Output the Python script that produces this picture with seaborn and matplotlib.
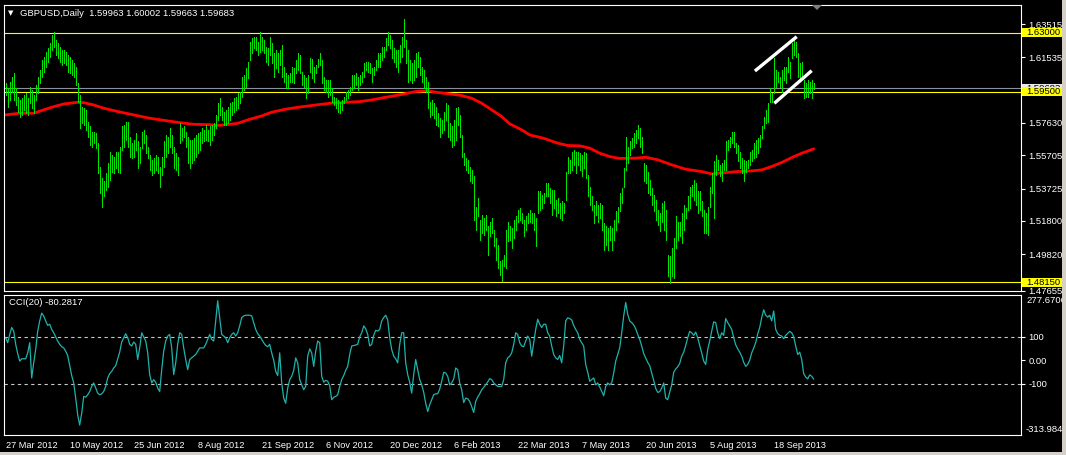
import numpy as np
import pandas as pd
import matplotlib
matplotlib.use("Agg")
import matplotlib.pyplot as plt
import matplotlib.transforms as mtransforms
from matplotlib.patches import Rectangle, Polygon
import seaborn as sns

# ---------------- data ----------------
symbol_title = "GBPUSD,Daily  1.59963 1.60002 1.59663 1.59683"
cci_title = "CCI(20) -80.2817"

highs = [
1.5999,1.5969,1.6009,1.6039,1.6062,1.5969,1.5920,1.5900,1.5910,1.5930,
1.5940,1.5910,1.5979,1.5959,1.5930,1.5989,1.6039,1.6078,1.6138,1.6157,
1.6187,1.6207,1.6237,1.6286,1.6302,1.6256,1.6237,1.6217,1.6197,1.6197,
1.6187,1.6167,1.6157,1.6138,1.6118,1.6098,1.5999,1.5930,1.5860,1.5851,
1.5841,1.5771,1.5742,1.5712,1.5712,1.5702,1.5643,1.5504,1.5435,1.5415,
1.5464,1.5524,1.5593,1.5573,1.5563,1.5593,1.5593,1.5623,1.5742,1.5752,
1.5771,1.5771,1.5682,1.5643,1.5662,1.5702,1.5653,1.5623,1.5712,1.5722,
1.5692,1.5623,1.5573,1.5544,1.5554,1.5573,1.5563,1.5504,1.5563,1.5653,
1.5692,1.5682,1.5732,1.5692,1.5623,1.5583,1.5563,1.5761,1.5732,1.5742,
1.5712,1.5682,1.5662,1.5662,1.5672,1.5692,1.5702,1.5712,1.5732,1.5722,
1.5752,1.5722,1.5742,1.5752,1.5761,1.5811,1.5880,1.5910,1.5860,1.5831,
1.5841,1.5860,1.5880,1.5890,1.5910,1.5920,1.5940,1.5950,1.6039,1.6049,
1.6088,1.6128,1.6246,1.6266,1.6276,1.6276,1.6246,1.6306,1.6276,1.6256,
1.6217,1.6207,1.6276,1.6237,1.6177,1.6197,1.6177,1.6197,1.6227,1.6098,
1.6058,1.6049,1.6058,1.6098,1.6088,1.6138,1.6177,1.6167,1.6068,1.6049,
1.6029,1.6049,1.6147,1.6142,1.6098,1.6108,1.6142,1.6177,1.6138,1.6039,
1.6019,1.6019,1.6019,1.5969,1.5920,1.5910,1.5900,1.5890,1.5900,1.5920,
1.5950,1.5959,1.5979,1.6049,1.6049,1.6058,1.6039,1.6049,1.6068,1.6118,
1.6128,1.6128,1.6118,1.6088,1.6098,1.6138,1.6177,1.6177,1.6217,1.6217,
1.6266,1.6306,1.6286,1.6256,1.6207,1.6197,1.6197,1.6227,1.6276,1.6381,
1.6256,1.6197,1.6138,1.6118,1.6138,1.6177,1.6187,1.6157,1.6098,1.6078,
1.6039,1.6009,1.5890,1.5900,1.5880,1.5860,1.5821,1.5791,1.5781,1.5831,
1.5880,1.5870,1.5761,1.5742,1.5781,1.5851,1.5860,1.5811,1.5692,1.5583,
1.5554,1.5544,1.5504,1.5484,1.5445,1.5266,1.5316,1.5187,1.5217,1.5197,
1.5217,1.5148,1.5177,1.5197,1.5128,1.5078,1.5039,1.4940,1.4950,1.4979,
1.5128,1.5177,1.5148,1.5138,1.5187,1.5207,1.5247,1.5257,1.5227,1.5187,
1.5207,1.5227,1.5247,1.5227,1.5227,1.5197,1.5356,1.5356,1.5336,1.5346,
1.5405,1.5405,1.5375,1.5365,1.5365,1.5306,1.5316,1.5286,1.5296,1.5286,
1.5474,1.5563,1.5544,1.5593,1.5603,1.5593,1.5593,1.5583,1.5573,1.5593,
1.5583,1.5455,1.5385,1.5326,1.5276,1.5296,1.5276,1.5286,1.5276,1.5167,
1.5148,1.5138,1.5148,1.5138,1.5187,1.5237,1.5266,1.5346,1.5375,1.5494,
1.5682,1.5623,1.5653,1.5672,1.5702,1.5722,1.5752,1.5732,1.5682,1.5524,
1.5514,1.5474,1.5425,1.5375,1.5336,1.5306,1.5247,1.5227,1.5286,1.5296,
1.5247,1.4979,1.4969,1.5019,1.5078,1.5207,1.5177,1.5177,1.5227,1.5276,
1.5257,1.5326,1.5385,1.5395,1.5425,1.5405,1.5356,1.5356,1.5296,1.5247,
1.5227,1.5266,1.5385,1.5464,1.5534,1.5573,1.5544,1.5514,1.5524,1.5544,
1.5653,1.5662,1.5682,1.5712,1.5712,1.5643,1.5633,1.5593,1.5554,1.5544,
1.5534,1.5544,1.5593,1.5603,1.5643,1.5662,1.5672,1.5692,1.5742,1.5801,
1.5841,1.5880,1.5969,1.5940,1.6147,1.6078,1.6068,1.6039,1.6078,1.6098,
1.6098,1.6157,1.6128,1.6237,1.6256,1.6246,1.6177,1.6118,1.6128,1.6019,
1.5999,1.6019,1.6009,1.6019,1.60002]

lows = [
1.5930,1.5860,1.5900,1.5950,1.5900,1.5870,1.5831,1.5801,1.5811,1.5841,
1.5821,1.5811,1.5880,1.5851,1.5821,1.5900,1.5940,1.5999,1.6039,1.6068,
1.6098,1.6128,1.6157,1.6197,1.6217,1.6167,1.6147,1.6128,1.6108,1.6118,
1.6108,1.6068,1.6058,1.6049,1.6039,1.5989,1.5890,1.5732,1.5761,1.5752,
1.5722,1.5682,1.5633,1.5623,1.5643,1.5613,1.5464,1.5346,1.5266,1.5326,
1.5365,1.5385,1.5425,1.5474,1.5464,1.5494,1.5474,1.5464,1.5603,1.5623,
1.5662,1.5623,1.5563,1.5554,1.5563,1.5603,1.5494,1.5524,1.5613,1.5643,
1.5583,1.5554,1.5484,1.5455,1.5464,1.5484,1.5464,1.5385,1.5455,1.5504,
1.5563,1.5583,1.5623,1.5583,1.5494,1.5484,1.5455,1.5643,1.5662,1.5682,
1.5623,1.5524,1.5494,1.5524,1.5544,1.5563,1.5583,1.5603,1.5643,1.5653,
1.5662,1.5653,1.5633,1.5662,1.5692,1.5732,1.5781,1.5811,1.5781,1.5752,
1.5752,1.5761,1.5781,1.5811,1.5831,1.5841,1.5851,1.5880,1.5920,1.5959,
1.5979,1.6029,1.6138,1.6177,1.6207,1.6197,1.6167,1.6187,1.6197,1.6177,
1.6128,1.6108,1.6167,1.6118,1.6039,1.6088,1.6068,1.6108,1.6039,1.6009,
1.5969,1.5969,1.6009,1.6009,1.5999,1.6058,1.6078,1.6058,1.5989,1.5979,
1.5910,1.5940,1.6068,1.6029,1.6009,1.6058,1.6098,1.6108,1.5999,1.5959,
1.5950,1.5920,1.5930,1.5890,1.5870,1.5851,1.5831,1.5821,1.5841,1.5880,
1.5900,1.5910,1.5930,1.5959,1.5969,1.5989,1.5959,1.5989,1.6009,1.6039,
1.6078,1.6068,1.6058,1.6009,1.6049,1.6078,1.6098,1.6098,1.6138,1.6157,
1.6197,1.6227,1.6207,1.6147,1.6128,1.6098,1.6068,1.6128,1.6157,1.6217,
1.6118,1.6009,1.6019,1.5999,1.6019,1.6039,1.6098,1.6049,1.6009,1.5969,
1.5950,1.5851,1.5801,1.5811,1.5791,1.5752,1.5742,1.5682,1.5702,1.5722,
1.5781,1.5682,1.5662,1.5623,1.5633,1.5662,1.5752,1.5682,1.5563,1.5514,
1.5484,1.5464,1.5415,1.5405,1.5187,1.5128,1.5207,1.5068,1.5108,1.5098,
1.5128,1.4979,1.5088,1.5108,1.5029,1.4950,1.4900,1.4861,1.4821,1.4910,
1.4900,1.5059,1.5068,1.5019,1.5078,1.5128,1.5177,1.5187,1.5167,1.5088,
1.5128,1.5167,1.5177,1.5167,1.5128,1.5029,1.5227,1.5247,1.5257,1.5286,
1.5326,1.5326,1.5286,1.5217,1.5257,1.5207,1.5227,1.5197,1.5187,1.5227,
1.5306,1.5464,1.5464,1.5484,1.5514,1.5464,1.5514,1.5484,1.5445,1.5494,
1.5435,1.5326,1.5276,1.5247,1.5167,1.5217,1.5177,1.5197,1.5128,1.5009,
1.5039,1.5009,1.5068,1.5009,1.5068,1.5128,1.5177,1.5237,1.5286,1.5385,
1.5484,1.5524,1.5573,1.5613,1.5623,1.5643,1.5672,1.5623,1.5583,1.5415,
1.5405,1.5346,1.5336,1.5276,1.5237,1.5187,1.5158,1.5118,1.5177,1.5128,
1.5068,1.4851,1.4811,1.4851,1.4841,1.5019,1.5068,1.5088,1.5049,1.5128,
1.5197,1.5247,1.5257,1.5326,1.5306,1.5276,1.5227,1.5247,1.5207,1.5108,
1.5108,1.5098,1.5266,1.5346,1.5197,1.5455,1.5484,1.5445,1.5415,1.5484,
1.5484,1.5603,1.5623,1.5643,1.5623,1.5583,1.5534,1.5494,1.5464,1.5415,
1.5474,1.5494,1.5514,1.5534,1.5554,1.5563,1.5583,1.5623,1.5672,1.5732,
1.5761,1.5771,1.5890,1.5890,1.5940,1.5979,1.6009,1.5979,1.5950,1.6019,
1.5999,1.6068,1.6029,1.6147,1.6167,1.6157,1.6039,1.6019,1.6039,1.5910,
1.5920,1.5920,1.5940,1.5910,1.59663]

cci_values = [
95,74,109,138,123,67,28,-4,6,6,
6,31,74,-75,-11,45,123,166,199,187,
166,147,152,130,116,99,81,67,57,52,
38,20,-23,-65,-96,-160,-231,-274,-224,-153,
-156,-146,-132,-111,-96,-118,-139,-146,-142,-132,
-111,-75,-57,-47,-33,-23,6,34,77,95,
112,95,67,60,77,67,3,52,116,99,
81,31,-61,-96,-82,-93,-118,-132,-40,38,
81,102,109,52,-61,-11,67,116,109,52,
3,-40,3,10,17,24,38,52,52,52,
67,88,109,88,81,166,251,180,109,102,
95,74,95,109,116,102,116,145,180,187,
190,190,190,187,159,130,112,102,88,74,
62,57,67,31,0,-47,-65,31,-96,-160,
-182,-118,-82,-68,-43,10,-11,-82,-104,-125,
-111,17,48,31,-26,38,81,74,-68,-93,
-85,-89,-108,-167,-157,-153,-146,-111,-82,-65,
-43,-26,24,60,62,64,67,99,116,145,
133,109,60,67,105,126,123,130,166,180,
190,170,95,45,17,6,-11,67,116,116,
-11,-61,-93,-139,-60,3,-40,-82,-104,-136,
-182,-217,-188,-167,-146,-142,-142,-122,-89,-51,
-54,-68,-104,-96,-79,-33,-40,-96,-125,-179,
-160,-163,-174,-196,-221,-174,-156,-142,-125,-115,
-104,-92,-78,-82,-96,-104,-111,-111,-111,-82,
-11,10,17,31,67,116,109,74,60,57,
81,102,88,17,74,130,173,152,138,152,
152,116,102,60,24,10,3,20,-11,60,
166,179,176,170,147,130,116,88,74,60,
-18,-51,-89,-82,-75,-104,-96,-113,-132,-150,
-111,-96,-104,-96,-54,-4,24,52,116,187,
244,194,166,159,149,133,109,88,60,28,
10,-9,-23,-54,-85,-119,-136,-133,-118,-96,
-160,-167,-136,-104,-51,-37,-28,-14,17,34,
62,95,122,116,105,119,95,62,31,-4,
-18,45,81,123,162,159,116,91,116,105,
176,159,145,130,95,65,48,34,17,-9,
-26,-18,0,31,51,74,111,138,180,213,
190,182,190,166,208,130,113,105,102,91,
105,113,122,116,99,60,24,34,3,-57,
-71,-79,-62,-68,-80.28]

ma_bar = [0,7,14,19,24,29,36,39,44,49,56,64,72,80,87,94,102,105,110,116,121,128,133,140,146,
          155,162,170,177,183,190,197,205,211,216,222,228,233,238,243,248,252,258,262,269,276,
          281,287,292,297,302,307,315,320,326,333,340,348,353,360,366,373,378,383,388,393,398,404]
ma_price = [1.5811,1.5821,1.5821,1.5841,1.5860,1.5876,1.5886,1.5884,1.5870,1.5851,1.5831,1.5811,
            1.5791,1.5777,1.5765,1.5755,1.5753,1.5748,1.5752,1.5761,1.5781,1.5805,1.5827,1.5845,
            1.5856,1.5870,1.5880,1.5886,1.5890,1.5900,1.5916,1.5930,1.5950,1.5955,1.5944,1.5936,
            1.5926,1.5910,1.5880,1.5841,1.5801,1.5758,1.5722,1.5692,1.5672,1.5643,1.5629,1.5627,
            1.5613,1.5583,1.5563,1.5552,1.5554,1.5559,1.5544,1.5514,1.5488,1.5474,1.5460,1.5468,
            1.5474,1.5478,1.5484,1.5504,1.5528,1.5557,1.5583,1.5609]

hlines_yellow = [1.63000, 1.59500, 1.48150]
bid_price = 1.59683
price_ticks = [1.63515, 1.61535, 1.57630, 1.55705, 1.53725, 1.51800, 1.49820, 1.47655]
cci_ticks = [100, 0, -100]
cci_tick_labels = ["100", "0.00", "-100"]
cci_max, cci_min = 277.6706, -313.9847
price_min, price_max = 1.47637, 1.64645

date_bars = [0, 32, 64, 96, 128, 160, 192, 224, 256, 288, 320, 352, 384]
date_labels = ["27 Mar 2012", "10 May 2012", "25 Jun 2012", "8 Aug 2012", "21 Sep 2012",
               "6 Nov 2012", "20 Dec 2012", "6 Feb 2013", "22 Mar 2013", "7 May 2013",
               "20 Jun 2013", "5 Aug 2013", "18 Sep 2013"]

# channel trend lines (bar index, price)
trend_upper = [(374.6, 1.6072), (395.5, 1.6276)]
trend_lower = [(384.3, 1.5880), (403.0, 1.6074)]

# ---------------- style ----------------
sns.set_style("dark", {"axes.facecolor": "black", "figure.facecolor": "black"})
plt.rcParams["font.family"] = ["Liberation Sans", "DejaVu Sans"]

W, H = 1066, 455
fig = plt.figure(figsize=(W / 100, H / 100), dpi=100, facecolor="black")

def fx(px):
    return px / W

def fy(py):
    return 1 - py / H

L, R = 4, 1021
ax = fig.add_axes([fx(L), fy(291), fx(R - L), (291 - 5) / H])
ax2 = fig.add_axes([fx(L), fy(434.5), fx(R - L), (434.5 - 294.5) / H])

N = len(highs)
bars = pd.DataFrame({"bar": np.arange(N), "high": highs, "low": lows, "cci": cci_values})
xlim = (-0.85, 507.65)

GREEN = "#00e400"
for a in (ax, ax2):
    a.set_facecolor("black")
    a.set_xlim(*xlim)
    a.grid(False)
    for s in a.spines.values():
        s.set_color("white")
        s.set_linewidth(0.8)

# price bars (1 px wide)
ax.vlines(bars["bar"], bars["low"], bars["high"], colors=GREEN, linewidth=0.72,
          antialiased=False, zorder=3)

# moving average
ma_df = pd.DataFrame({"bar": ma_bar, "price": ma_price})
sns.lineplot(data=ma_df, x="bar", y="price", ax=ax, color="#ff0000", linewidth=2.0,
             estimator=None, sort=False, zorder=2)

# horizontal lines
for p in hlines_yellow:
    ax.axhline(p, color="#ffff00", linewidth=0.8, zorder=1)
ax.axhline(bid_price, color="#8a8f99", linewidth=0.8, zorder=1)

# trend lines
for tl in (trend_upper, trend_lower):
    ax.plot([tl[0][0], tl[1][0]], [tl[0][1], tl[1][1]], color="white", linewidth=2.4,
            solid_capstyle="butt", zorder=4)

ax.set_ylim(price_min, price_max)
ax.set_xticks([])
ax.yaxis.tick_right()
ax.set_yticks(price_ticks)
ax.set_yticklabels([f"{v:.5f}" for v in price_ticks])
ax.tick_params(axis="y", colors="white", length=3, width=0.8, pad=2.5, labelsize=6.8,
               labelcolor="white")
ax.set_xlabel("")
ax.set_ylabel("")

# price label boxes
bt = mtransforms.blended_transform_factory(fig.transFigure, ax.transData)
box_h = 8.4 * (price_max - price_min) / 286

def price_box(p, txt, fc, z):
    ax.add_patch(Rectangle((fx(1022), p - box_h / 2), fx(42), box_h, transform=bt,
                           facecolor=fc, edgecolor="none", clip_on=False, zorder=z))
    ax.text(fx(1026), p, txt, transform=bt, color="black", fontsize=6.8, va="center",
            ha="left", clip_on=False, zorder=z + 0.5)

price_box(bid_price, f"{bid_price:.5f}", "#e8e8e8", 6)
for p in hlines_yellow:
    price_box(p, f"{p:.5f}", "#ffff00", 7)

# chart shift marker
ax.add_patch(Polygon([[fx(812), fy(5)], [fx(822), fy(5)], [fx(817), fy(10)]], closed=True,
                     transform=fig.transFigure, facecolor="#7f7f7f", edgecolor="none",
                     clip_on=False, zorder=8))

# CCI
sns.lineplot(data=bars, x="bar", y="cci", ax=ax2, color="#20b2aa", linewidth=0.9,
             estimator=None, sort=False)
for lv in (100, -100):
    ax2.axhline(lv, color="#c8c8c8", linewidth=0.8, linestyle=(0, (3, 3)), zorder=1)
ax2.set_ylim(cci_min, cci_max)
ax2.yaxis.tick_right()
ax2.set_yticks(cci_ticks)
ax2.set_yticklabels(cci_tick_labels)
ax2.tick_params(axis="y", colors="white", length=3, width=0.8, pad=2.5, labelsize=6.8)
fig.text(fx(1026), fy(300.5), f"{cci_max:.4f}", color="white", fontsize=6.8,
         va="center", ha="left")
fig.text(fx(1026), fy(429), f"{cci_min:.4f}", color="white", fontsize=6.8,
         va="center", ha="left")
ax2.set_xticks(date_bars)
ax2.set_xticklabels(date_labels, ha="left")
ax2.tick_params(axis="x", colors="white", length=3, width=0.8, pad=1.5, labelsize=6.6)
ax2.set_xlabel("")
ax2.set_ylabel("")

# titles
fig.text(fx(8), fy(13), "\u25bc", color="white", fontsize=5, va="center", ha="left",
         family=["DejaVu Sans"])
fig.text(fx(20), fy(13), symbol_title, color="white", fontsize=6.8, va="center", ha="left")
fig.text(fx(9), fy(302.5), cci_title, color="white", fontsize=6.8, va="center", ha="left")

# window frame strips (right and bottom edge of the screenshot)
fig.patches.append(Rectangle((fx(1062), 0), fx(4), 1, transform=fig.transFigure,
                             facecolor="#d4d0c8", edgecolor="none", zorder=10))
fig.patches.append(Rectangle((0, 0), 1, 3 / H, transform=fig.transFigure,
                             facecolor="#d4d0c8", edgecolor="none", zorder=10))

fig.savefig("out.png", dpi=100, facecolor="black")
